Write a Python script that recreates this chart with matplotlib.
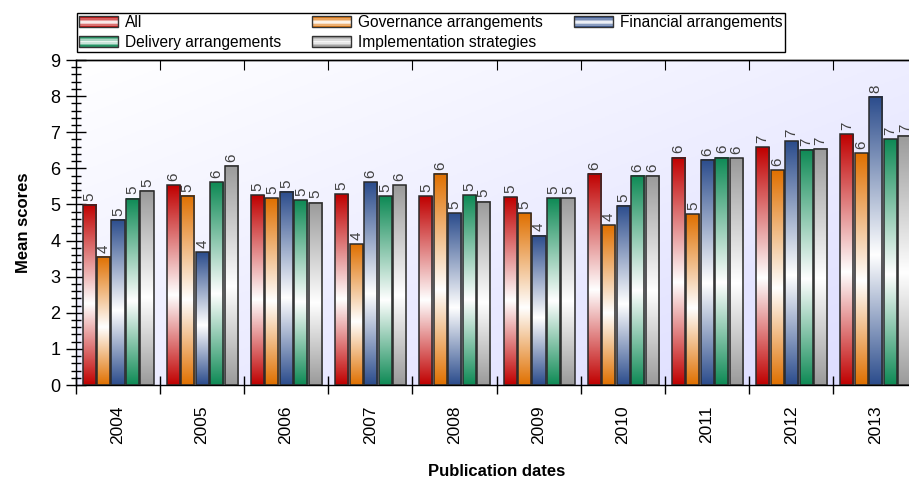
import numpy as np
import matplotlib
matplotlib.use('Agg')
import matplotlib.pyplot as plt
from matplotlib.colors import LinearSegmentedColormap
from matplotlib.patches import Patch, Rectangle
from matplotlib.legend_handler import HandlerBase
from matplotlib.ticker import MultipleLocator, FixedLocator, NullFormatter

plt.rcParams['font.family'] = ['Liberation Sans', 'DejaVu Sans']

years = ['2004', '2005', '2006', '2007', '2008', '2009', '2010', '2011', '2012', '2013']
all_scores = [4.99, 5.53, 5.25, 5.28, 5.23, 5.20, 5.85, 6.30, 6.59, 6.94]
governance = [3.55, 5.24, 5.17, 3.90, 5.85, 4.76, 4.43, 4.73, 5.95, 6.42]
financial = [4.57, 3.67, 5.35, 5.61, 4.76, 4.14, 4.96, 6.24, 6.75, 7.98]
delivery = [5.16, 5.62, 5.11, 5.23, 5.25, 5.17, 5.79, 6.30, 6.51, 6.81]
implementation = [5.38, 6.07, 5.05, 5.53, 5.08, 5.17, 5.79, 6.28, 6.54, 6.90]

# bar order inside each year group
series = [
    ('All', all_scores, '#C00000'),
    ('Governance arrangements', governance, '#E07000'),
    ('Financial arrangements', financial, '#2B4C8C'),
    ('Delivery arrangements', delivery, '#0E8A55'),
    ('Implementation strategies', implementation, '#9A9A9A'),
]


def bar_cmap(c):
    return LinearSegmentedColormap.from_list('g', [(0, c), (0.45, 'white'), (1, c)])


class GradHandler(HandlerBase):
    def __init__(self, cmap):
        super().__init__()
        self.cmap = cmap

    def create_artists(self, legend, orig_handle, xdescent, ydescent,
                       width, height, fontsize, trans):
        x0, y0 = -xdescent, -ydescent
        arts = []
        n = 7
        for k, t in enumerate(np.linspace(0.05, 0.95, n)):
            arts.append(Rectangle((x0, y0 + k * height / n), width, height / n,
                                  facecolor=self.cmap(t), edgecolor='none',
                                  transform=trans))
        arts.append(Rectangle((x0, y0), width, height, facecolor='none',
                              edgecolor='#333333', lw=1.0, transform=trans))
        return arts


fig = plt.figure(figsize=(9.09, 4.8), dpi=100)
ax = fig.add_axes([75.5 / 909, 1 - 385 / 480, 842 / 909, 325 / 480])

# background gradient, white top-left to lavender bottom-right
gx, gy = np.meshgrid(np.linspace(0, 1, 200), np.linspace(0, 1, 200))
bg = (gx + gy) / 2
bg_cmap = LinearSegmentedColormap.from_list('bg', ['#FFFFFF', '#DCDCFF'])
ax.imshow(bg, extent=[0, 1, 0, 1], transform=ax.transAxes, cmap=bg_cmap,
          aspect='auto', origin='upper', zorder=0, vmin=0, vmax=1)

pitch = 0.172
width = 0.155
grad = np.linspace(0, 1, 256).reshape(-1, 1)
x = np.arange(len(years))

handles = []
for j, (name, vals, col) in enumerate(series):
    cm = bar_cmap(col)
    pos = x + 0.505 + (j - 2) * pitch
    bars = ax.bar(pos, vals, width, facecolor='none', edgecolor='#2A2A2A',
                  linewidth=1.1, zorder=3)
    for b, v in zip(bars, vals):
        x0 = b.get_x()
        ax.imshow(grad, extent=[x0, x0 + width, 0, v], cmap=cm, vmin=0, vmax=1,
                  aspect='auto', origin='lower', zorder=2, interpolation='bilinear')
        ax.annotate(f'{v:.0f}', (x0 + width / 2, v), xytext=(0, 3),
                    textcoords='offset points', ha='center', va='bottom',
                    rotation=90, fontsize=11, color='#404040', zorder=4)
    h = Patch(label=name)
    handles.append((h, GradHandler(cm)))

ax.set_xlim(0, len(years))
ax.set_ylim(0, 9)

ax.xaxis.set_major_locator(FixedLocator(np.arange(0, len(years) + 1)))
ax.xaxis.set_major_formatter(NullFormatter())
ax.set_xticks(x + 0.5, years, minor=True, rotation=90)
ax.tick_params(axis='x', which='major', direction='inout', length=13, width=1)
ax.tick_params(axis='x', which='minor', length=0, pad=15, labelsize=12.5)

ax.yaxis.set_major_locator(MultipleLocator(1))
ax.yaxis.set_minor_locator(MultipleLocator(0.2))
ax.tick_params(axis='y', which='major', direction='inout', length=14, width=1,
               labelsize=13, pad=4)
ax.tick_params(axis='y', which='minor', direction='inout', length=7, width=1)

top = ax.secondary_xaxis('top')
top.set_xticks(np.arange(0, len(years) + 1))
top.tick_params(direction='in', length=7, labeltop=False)
top.spines['top'].set_linewidth(1)

for s in ['left', 'bottom', 'top']:
    ax.spines[s].set_linewidth(1)

ax.set_ylabel('Mean scores', fontsize=12, fontweight='bold', labelpad=14)
ax.set_xlabel('Publication dates', fontsize=12, fontweight='bold', labelpad=14)

order = [0, 3, 1, 4, 2]
leg_h = [handles[i][0] for i in order]
hmap = {handles[i][0]: handles[i][1] for i in order}
leg = fig.legend(leg_h, [h.get_label() for h in leg_h], handler_map=hmap,
                 loc='upper left', bbox_to_anchor=(77 / 909, 1 - 13 / 480),
                 ncol=3, fontsize=11.2, frameon=True, fancybox=False,
                 edgecolor='black', framealpha=1, handlelength=2.5,
                 handleheight=0.7, handletextpad=0.45, columnspacing=2.0,
                 borderpad=0.15, labelspacing=0.3, borderaxespad=0)
leg.get_frame().set_linewidth(1.0)

fig.savefig('out.png', dpi=100)
